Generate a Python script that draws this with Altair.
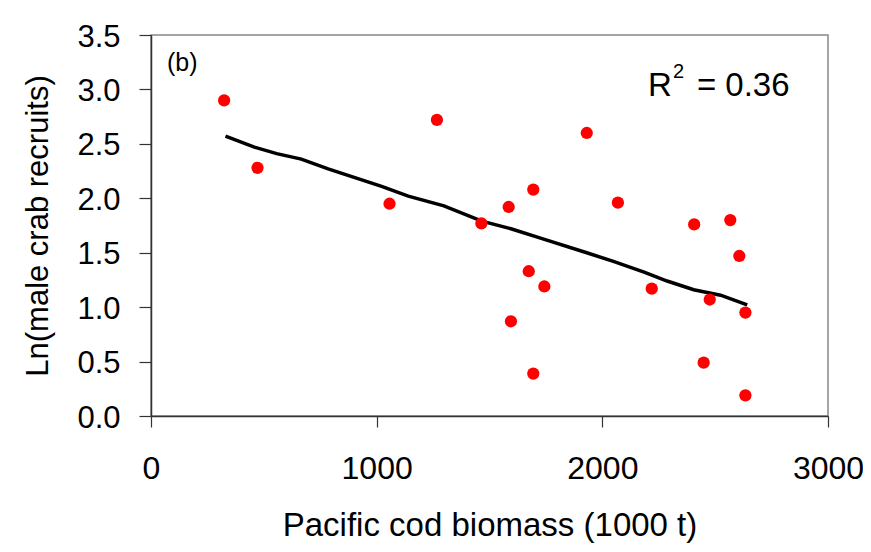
import altair as alt
import pandas as pd

# Scatter data: Pacific cod biomass (1000 t) vs Ln(male crab recruits)
cod_biomass = [324, 472, 1057, 1267, 1464, 1585, 1694, 1674, 1743, 1595, 1694,
               1931, 2069, 2219, 2407, 2567, 2607, 2476, 2449, 2634, 2634]
ln_recruits = [2.90, 2.28, 1.95, 2.72, 1.77, 1.92, 2.08, 1.33, 1.19, 0.87, 0.39,
               2.60, 1.96, 1.17, 1.76, 1.80, 1.47, 1.07, 0.49, 0.95, 0.19]

# Fitted curve
fit_x = [330, 458, 557, 666, 785, 1022, 1140, 1298, 1466, 1595, 1733, 1931,
         2049, 2188, 2287, 2405, 2524, 2642]
fit_y = [2.57, 2.47, 2.41, 2.36, 2.27, 2.11, 2.02, 1.93, 1.79, 1.72, 1.63, 1.50,
         1.42, 1.32, 1.24, 1.16, 1.11, 1.02]

x_ticks = [0, 1000, 2000, 3000]
y_ticks = [0.0, 0.5, 1.0, 1.5, 2.0, 2.5, 3.0, 3.5]

FONT = "Liberation Sans"

pts = pd.DataFrame({"x": cod_biomass, "y": ln_recruits})
fit = pd.DataFrame({"x": fit_x, "y": fit_y})

xscale = alt.Scale(domain=[0, 3000], nice=False, zero=False)
yscale = alt.Scale(domain=[0, 3.5], nice=False, zero=False)

xaxis = alt.Axis(values=x_ticks, format="d", title="Pacific cod biomass (1000 t)",
                 grid=False, tickSize=11, labelPadding=26, labelFontSize=32,
                 titleFontSize=33, titleX=338.5, titleY=119, titleBaseline="alphabetic",
                 titleFontWeight="normal", labelFont=FONT, titleFont=FONT,
                 domainColor="#333333", tickColor="#333333", domainWidth=1.5, tickWidth=1.2,
                 labelColor="black", titleColor="black", labelFlush=False)
yaxis = alt.Axis(values=y_ticks, format=".1f", title="Ln(male crab recruits)",
                 grid=False, tickSize=12, labelPadding=19, labelFontSize=31,
                 labelOffset=2, titleFontSize=31, titleX=-104, titleY=190.5,
                 titleAngle=-90, titleBaseline="alphabetic", titleAlign="center",
                 titleFontWeight="normal", labelFont=FONT, titleFont=FONT,
                 domainColor="#333333", tickColor="#333333", domainWidth=1.5, tickWidth=1.2,
                 labelColor="black", titleColor="black", labelFlush=False)

points = alt.Chart(pts).mark_circle(size=150, color="#ff0000", opacity=1).encode(
    x=alt.X("x:Q", scale=xscale, axis=xaxis),
    y=alt.Y("y:Q", scale=yscale, axis=yaxis),
)

line = alt.Chart(fit).mark_line(color="black", strokeWidth=3.5).encode(
    x=alt.X("x:Q", scale=xscale),
    y=alt.Y("y:Q", scale=yscale),
)

# Annotations
panel_label = pd.DataFrame({"x": [71], "y": [3.168], "t": ["(b)"]})
r_main = pd.DataFrame({"x": [2202], "y": [2.94], "t": ["R"]})
r_sup = pd.DataFrame({"x": [2313], "y": [3.104], "t": ["2"]})
r_val = pd.DataFrame({"x": [2419], "y": [2.94], "t": ["= 0.36"]})

def txt(df, size):
    return alt.Chart(df).mark_text(align="left", baseline="alphabetic", font=FONT,
                                   fontSize=size, color="black").encode(
        x=alt.X("x:Q", scale=xscale), y=alt.Y("y:Q", scale=yscale), text="t:N")

chart = alt.layer(
    line, points,
    txt(panel_label, 25), txt(r_main, 33), txt(r_sup, 20), txt(r_val, 33),
).properties(
    width=677, height=381,
    autosize=alt.AutoSizeParams(type="none"),
    padding={"left": 143, "top": 27, "right": 35, "bottom": 128},
    background="white",
).configure_view(
    stroke="#888888", strokeWidth=1.5
)

chart.save("out.html", embed_options={"renderer": "svg", "actions": False})
